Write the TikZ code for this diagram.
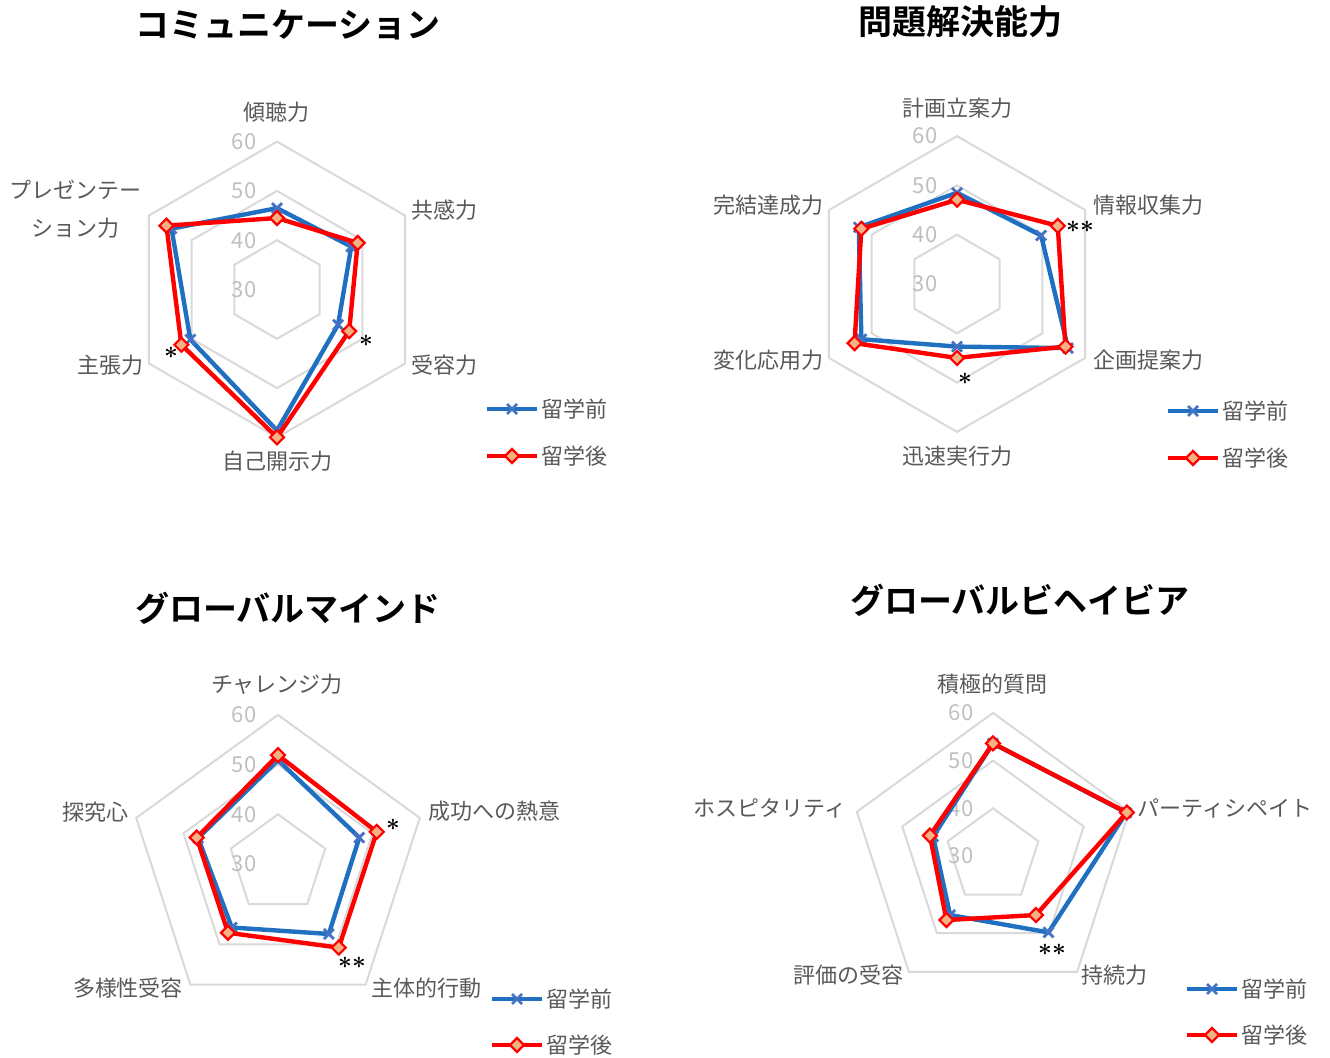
\documentclass[tikz,border=0pt]{standalone}
\usepackage{fontspec}
\setmainfont{Noto Sans CJK JP}[BoldFont={Noto Sans CJK JP Bold}]
\usetikzlibrary{positioning,calc}

\definecolor{gridgray}{HTML}{D9D9D9}
\definecolor{numgray}{HTML}{BFBFBF}
\definecolor{labelgray}{HTML}{595959}
\definecolor{prevblue}{HTML}{1F70C1}
\definecolor{markblue}{HTML}{4472C4}
\definecolor{postred}{HTML}{FF0000}
\definecolor{markfill}{HTML}{F4B183}

\tikzset{
  ring/.style={draw=gridgray, line width=1pt},
  before/.style={draw=prevblue, line width=2.2pt, line join=round},
  after/.style={draw=postred, line width=2.2pt, line join=round},
  axislabel/.style={font=\fontsize{11}{19}\selectfont, text=labelgray, inner sep=0pt},
  ticklabel/.style={font=\fontsize{11}{13}\selectfont, text=numgray, inner sep=0pt},
  charttitle/.style={font=\fontsize{17}{20}\selectfont\bfseries, inner sep=0pt},
  legendtext/.style={font=\fontsize{11}{13}\selectfont, text=labelgray, anchor=west, inner sep=0pt},
  signif/.style={font=\large\boldmath, inner sep=0pt},
  xmark/.pic={\draw[markblue, line width=1.4pt] (-5,-5) -- (5,5) (-5,5) -- (5,-5);},
  dmark/.pic={\draw[postred, fill=markfill, line width=1.1pt] (0,7) -- (7,0) -- (0,-7) -- (-7,0) -- cycle;},
}

% rings at 40, 50, 60 (30 is the centre)
\newcommand{\drawrings}[2]{%
  \foreach \lv in {1,2,3}
    \draw[ring] (90:{\lv*10*#2}) \foreach \s in {1,...,#1}{ -- ({90-\s*360/#1}:{\lv*10*#2})} -- cycle;
}
% one data series: prefix, sides, px per point, style, marker pic, values
\newcommand{\plotseries}[6]{%
  \foreach \v [count=\i from 0] in {#6}
    \coordinate (#1\i) at ({90-\i*360/#2}:{(\v-30)*#3});
  \pgfmathtruncatemacro{\lastpt}{#2-1}
  \draw[#4] (#10) \foreach \i in {1,...,\lastpt}{ -- (#1\i)} -- cycle;
  \foreach \i in {0,...,\lastpt} \pic at (#1\i) {#5};
}
% tick numbers left of the top axis
\newcommand{\ticknums}[3]{%
  \foreach \t [count=\k from 0] in {30,40,50,60}
    \node[ticklabel] (#1t\k) at (#2,{\k*10*#3}) {\t};
}

\begin{document}
\begin{tikzpicture}[x=0.5pt, y=0.5pt]
  \useasboundingbox (0,0) rectangle (1330,1057);

  %% ---------- コミュニケーション ----------
  \node[charttitle] (comtitle) at (288,1032) {コミュニケーション};
  \begin{scope}[shift={(277,767.5)}]
    \def\pp{4.93}
    \drawrings{6}{\pp}
    \ticknums{com}{-33}{\pp}
    \plotseries{comb}{6}{\pp}{before}{xmark}{46.5,47.4,44.3,58.6,50.3,54.7}
    \plotseries{coma}{6}{\pp}{after}{dmark}{44.5,48.9,46.9,60.0,52.4,55.9}
  \end{scope}
  \node[axislabel] (com1) at (276,945) {傾聴力};
  \node[axislabel] (com2) at (444,847) {共感力};
  \node[axislabel] (com3) at (444,692) {受容力};
  \node[axislabel] (com4) at (277,596) {自己開示力};
  \node[axislabel] (com5) at (110,692) {主張力};
  \node[axislabel, align=center] (com6) at (76,848) {プレゼンテー\\ション力};
  \node[signif] (coms1) at (366,716) {$\ast$};
  \node[signif] (coms2) at (171,704) {$\ast$};
  % legend
  \coordinate (comlb0) at (487,648);
  \coordinate (comlb1) at (537,648);
  \draw[before] (comlb0) -- (comlb1);
  \pic at ($(comlb0)!0.5!(comlb1)$) {xmark};
  \node[legendtext] (comlbt) at (541,648) {留学前};
  \coordinate (comla0) at (487,601);
  \coordinate (comla1) at (537,601);
  \draw[after] (comla0) -- (comla1);
  \pic at ($(comla0)!0.5!(comla1)$) {dmark};
  \node[legendtext] (comlat) at (541,601) {留学後};

  %% ---------- 問題解決能力 ----------
  \node[charttitle] (probtitle) at (960,1035) {問題解決能力};
  \begin{scope}[shift={(957,773)}]
    \def\pp{4.93}
    \drawrings{6}{\pp}
    \ticknums{prob}{-32}{\pp}
    \plotseries{probb}{6}{\pp}{before}{xmark}{48.5,49.7,56.0,42.7,52.4,53.0}
    \plotseries{proba}{6}{\pp}{after}{dmark}{47.1,53.6,55.4,45.0,54.0,52.4}
  \end{scope}
  \node[axislabel] (prob1) at (957,949) {計画立案力};
  \node[axislabel] (prob2) at (1148,852) {情報収集力};
  \node[axislabel] (prob3) at (1148,697) {企画提案力};
  \node[axislabel] (prob4) at (957,601) {迅速実行力};
  \node[axislabel] (prob5) at (768,697) {変化応用力};
  \node[axislabel] (prob6) at (768,852) {完結達成力};
  \node[signif] (probs1) at (1080,830) {$\ast\ast$};
  \node[signif] (probs2) at (965,678) {$\ast$};
  % legend
  \coordinate (problb0) at (1168,646);
  \coordinate (problb1) at (1218,646);
  \draw[before] (problb0) -- (problb1);
  \pic at ($(problb0)!0.5!(problb1)$) {xmark};
  \node[legendtext] (problbt) at (1222,646) {留学前};
  \coordinate (probla0) at (1168,599);
  \coordinate (probla1) at (1218,599);
  \draw[after] (probla0) -- (probla1);
  \pic at ($(probla0)!0.5!(probla1)$) {dmark};
  \node[legendtext] (problat) at (1222,599) {留学後};

  %% ---------- グローバルマインド ----------
  \node[charttitle] (mindtitle) at (288,449) {グローバルマインド};
  \begin{scope}[shift={(278,193)}]
    \def\pp{4.97}
    \drawrings{5}{\pp}
    \ticknums{mind}{-34}{\pp}
    \plotseries{mindb}{5}{\pp}{before}{xmark}{50.9,47.2,47.4,45.8,46.9}
    \plotseries{minda}{5}{\pp}{after}{dmark}{51.9,50.9,50.8,47.1,47.2}
  \end{scope}
  \node[axislabel] (mind1) at (277,373) {チャレンジ力};
  \node[axislabel] (mind2) at (494,246) {成功への熱意};
  \node[axislabel] (mind3) at (426,69) {主体的行動};
  \node[axislabel] (mind4) at (128,69) {多様性受容};
  \node[axislabel] (mind5) at (95,245) {探究心};
  \node[signif] (minds1) at (393,232) {$\ast$};
  \node[signif] (minds2) at (352,94) {$\ast\ast$};
  % legend
  \coordinate (mindlb0) at (492,58);
  \coordinate (mindlb1) at (542,58);
  \draw[before] (mindlb0) -- (mindlb1);
  \pic at ($(mindlb0)!0.5!(mindlb1)$) {xmark};
  \node[legendtext] (mindlbt) at (546,58) {留学前};
  \coordinate (mindla0) at (492,12);
  \coordinate (mindla1) at (542,12);
  \draw[after] (mindla0) -- (mindla1);
  \pic at ($(mindla0)!0.5!(mindla1)$) {dmark};
  \node[legendtext] (mindlat) at (546,12) {留学後};

  %% ---------- グローバルビヘイビア ----------
  \node[charttitle] (behtitle) at (1020,457) {グローバルビヘイビア};
  \begin{scope}[shift={(993,201)}]
    \def\pp{4.77}
    \drawrings{5}{\pp}
    \ticknums{beh}{-32}{\pp}
    \plotseries{behb}{5}{\pp}{before}{xmark}{53.6,59.4,49.8,45.3,43.2}
    \plotseries{beha}{5}{\pp}{after}{dmark}{53.6,59.5,45.3,46.6,43.9}
  \end{scope}
  \node[axislabel] (beh1) at (992,373) {積極的質問};
  \node[axislabel] (beh2) at (1225,249) {パーティシペイト};
  \node[axislabel] (beh3) at (1114,82) {持続力};
  \node[axislabel] (beh4) at (848,82) {評価の受容};
  \node[axislabel] (beh5) at (770,249) {ホスピタリティ};
  \node[signif] (behs1) at (1052,107) {$\ast\ast$};
  % legend
  \coordinate (behlb0) at (1187,68);
  \coordinate (behlb1) at (1237,68);
  \draw[before] (behlb0) -- (behlb1);
  \pic at ($(behlb0)!0.5!(behlb1)$) {xmark};
  \node[legendtext] (behlbt) at (1241,68) {留学前};
  \coordinate (behla0) at (1187,22);
  \coordinate (behla1) at (1237,22);
  \draw[after] (behla0) -- (behla1);
  \pic at ($(behla0)!0.5!(behla1)$) {dmark};
  \node[legendtext] (behlat) at (1241,22) {留学後};
\end{tikzpicture}
\end{document}
